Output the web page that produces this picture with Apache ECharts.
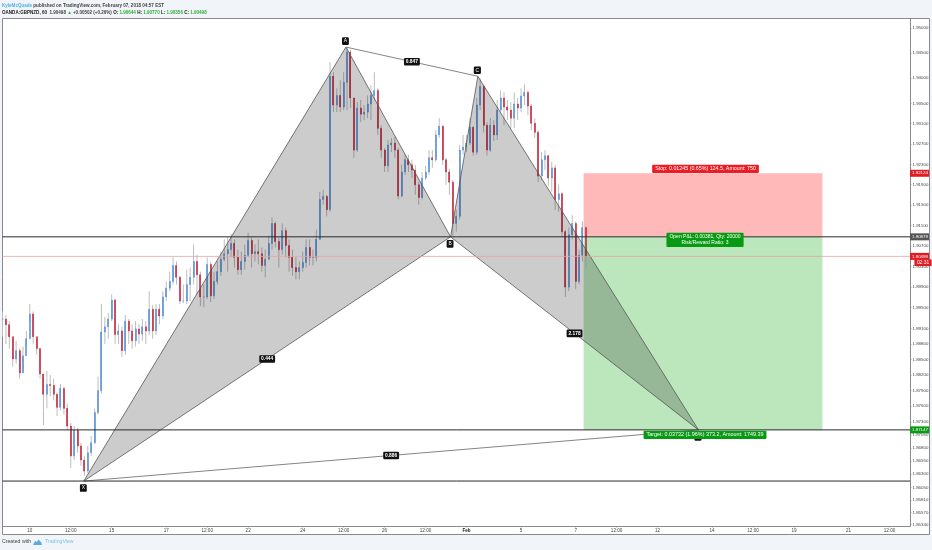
<!DOCTYPE html>
<html><head><meta charset="utf-8">
<style>html,body{margin:0;padding:0;background:#f1f4f8}#c{width:932px;height:550px}#c canvas{filter:blur(0.35px)}</style>
<script src="https://cdn.jsdelivr.net/npm/echarts@6/dist/echarts.min.js"></script>
</head><body><div id="c"></div>
<script>
const barStep = 3;
const closes = [1.8928,1.8917,1.8894,1.8851,1.8867,1.8824,1.8857,1.8890,1.8938,1.8894,1.8871,1.8822,1.8783,1.8802,1.8800,1.8783,1.8758,1.8794,1.8756,1.8722,1.8665,1.8714,1.8684,1.8657,1.8636,1.8671,1.8690,1.8748,1.8790,1.8903,1.8913,1.8928,1.8965,1.8898,1.8905,1.8867,1.8924,1.8905,1.8886,1.8909,1.8899,1.8913,1.8905,1.8947,1.8905,1.8947,1.8934,1.8971,1.8988,1.9001,1.9032,1.9009,1.8963,1.8963,1.8995,1.9009,1.9040,1.9014,1.8971,1.8971,1.9034,1.8973,1.9001,1.9020,1.9044,1.9055,1.9063,1.9075,1.9048,1.9024,1.9040,1.9052,1.9081,1.9055,1.9059,1.9055,1.9032,1.9044,1.9075,1.9114,1.9079,1.9063,1.9100,1.9071,1.9048,1.9028,1.9020,1.9028,1.9038,1.9067,1.9048,1.9048,1.9083,1.9161,1.9167,1.9141,1.9404,1.9347,1.9366,1.9343,1.9392,1.9452,1.9361,1.9258,1.9341,1.9329,1.9333,1.9349,1.9366,1.9376,1.9301,1.9258,1.9227,1.9268,1.9272,1.9258,1.9168,1.9215,1.9239,1.9229,1.9219,1.9190,1.9165,1.9203,1.9215,1.9243,1.9239,1.9288,1.9305,1.9239,1.9215,1.9195,1.9114,1.9128,1.9258,1.9264,1.9272,1.9303,1.9254,1.9347,1.9384,1.9307,1.9258,1.9307,1.9288,1.9337,1.9361,1.9343,1.9337,1.9321,1.9349,1.9341,1.9365,1.9372,1.9345,1.9311,1.9293,1.9207,1.9239,1.9247,1.9203,1.9223,1.9161,1.9172,1.9098,1.8990,1.9092,1.9114,1.9001,1.9052,1.9106,1.90498];
const highs = [1.8943,1.8936,1.8924,1.8890,1.8886,1.8871,1.8875,1.8905,1.8957,1.8943,1.8890,1.8871,1.8822,1.8828,1.8820,1.8813,1.8786,1.8803,1.8798,1.8765,1.8728,1.8722,1.8718,1.8690,1.8665,1.8684,1.8703,1.8756,1.8817,1.8957,1.8932,1.8940,1.8976,1.8967,1.8918,1.8913,1.8936,1.8928,1.8918,1.8924,1.8918,1.8928,1.8924,1.8982,1.8955,1.8957,1.8957,1.8982,1.9001,1.9020,1.9048,1.9040,1.9012,1.8995,1.9024,1.9028,1.9073,1.9053,1.9020,1.8995,1.9048,1.9040,1.9020,1.9040,1.9059,1.9083,1.9087,1.9094,1.9083,1.9063,1.9059,1.9073,1.9096,1.9087,1.9073,1.9083,1.9067,1.9063,1.9090,1.9126,1.9118,1.9087,1.9114,1.9106,1.9083,1.9063,1.9048,1.9040,1.9059,1.9083,1.9083,1.9063,1.9102,1.9176,1.9180,1.9170,1.9432,1.9412,1.9380,1.9396,1.9412,1.9460,1.9456,1.9361,1.9353,1.9357,1.9347,1.9366,1.9386,1.9412,1.9380,1.9307,1.9262,1.9278,1.9282,1.9284,1.9262,1.9229,1.9249,1.9249,1.9239,1.9229,1.9195,1.9215,1.9227,1.9258,1.9258,1.9297,1.9321,1.9307,1.9243,1.9221,1.9199,1.9141,1.9268,1.9288,1.9288,1.9321,1.9305,1.9361,1.9400,1.9386,1.9313,1.9321,1.9317,1.9357,1.9376,1.9372,1.9357,1.9353,1.9372,1.9361,1.9380,1.9388,1.9376,1.9349,1.9321,1.9297,1.9254,1.9258,1.9249,1.9235,1.9229,1.9190,1.9176,1.9102,1.9106,1.9130,1.9118,1.9063,1.9118,1.9110];
const lows = [1.8894,1.8880,1.8871,1.8836,1.8842,1.8813,1.8828,1.8877,1.8924,1.8880,1.8859,1.8813,1.8724,1.8756,1.8779,1.8771,1.8741,1.8752,1.8744,1.8714,1.8642,1.8657,1.8671,1.8646,1.8627,1.8632,1.8665,1.8688,1.8744,1.8785,1.8880,1.8890,1.8924,1.8880,1.8880,1.8855,1.8859,1.8880,1.8871,1.8875,1.8880,1.8886,1.8880,1.8897,1.8890,1.8897,1.8918,1.8928,1.8963,1.8982,1.8995,1.8995,1.8957,1.8959,1.8957,1.8963,1.8995,1.8976,1.8953,1.8951,1.8967,1.8961,1.8967,1.8995,1.9012,1.9040,1.9020,1.9048,1.9028,1.9014,1.9014,1.9024,1.9048,1.9028,1.9040,1.9034,1.9020,1.9009,1.9053,1.9063,1.9067,1.9028,1.9053,1.9048,1.9020,1.9012,1.9005,1.9005,1.9020,1.9028,1.9032,1.9032,1.9040,1.9083,1.9151,1.9128,1.9137,1.9333,1.9333,1.9333,1.9337,1.9337,1.9341,1.9243,1.9254,1.9313,1.9317,1.9321,1.9317,1.9357,1.9288,1.9243,1.9215,1.9215,1.9254,1.9243,1.9161,1.9165,1.9209,1.9215,1.9203,1.9170,1.9151,1.9161,1.9199,1.9209,1.9223,1.9235,1.9282,1.9229,1.9190,1.9170,1.9090,1.9098,1.9122,1.9249,1.9254,1.9268,1.9247,1.9249,1.9337,1.9293,1.9247,1.9254,1.9276,1.9278,1.9333,1.9307,1.9317,1.9301,1.9301,1.9317,1.9333,1.9347,1.9327,1.9297,1.9282,1.9195,1.9199,1.9219,1.9188,1.9176,1.9141,1.9137,1.9087,1.8971,1.8982,1.9083,1.8986,1.8995,1.9040,1.9028];

const priceTicks = [1.95,1.945,1.94,1.935,1.931,1.927,1.923,1.919,1.915,1.911,1.907,1.903,1.899,1.895,1.891,1.888,1.885,1.882,1.879,1.876,1.873,1.8705,1.868,1.8655,1.863,1.8605,1.8581,1.8557,1.8534];
const timeTickBars = [24,60,96,144,180,216,264,300,336,372,408,456,504,540,576,624,660,696,744,780];
const timeTickLabels = ['10','12:00','15','17','12:00','22','24','12:00','26','12:00','Feb','5','7','12:00','12','14','12:00','19','21','12:00'];
const axisBars = [0,798];
const axisPrices = [1.85316,1.9519];

const pivotNames = ['X','A','B','C','D'];
const pivotBars = [71.5,302,394,418,612];
const pivotPrices = [1.8617,1.9462,1.90879,1.9404,1.87147];
const triangles = [['X','A','B'],['B','C','D']];
const legs = [['A','C'],['X','D']];
const ratioLegs = [['X','B'],['A','C'],['B','D'],['X','D']];
const ratioLabels = ['0.444','0.847','2.178','0.886'];

const entry = 1.90879, stopPrice = 1.92124, targetPrice = 1.87147, lastPrice = 1.90498, patternLow = 1.8617;
const zoneBars = [511,721];
const hLevels = [entry,targetPrice,patternLow];
const stopText = 'Stop: 0.01245 (0.65%) 124.5, Amount: 750';
const openText = 'Open P&L: 0.00381, Qty: 20000\nRisk/Reward Ratio: 3';
const targetText = 'Target: 0.03732 (1.96%) 373.2, Amount: 1749.39';
const tagPrices = [stopPrice,entry,lastPrice,targetPrice];
const tagTexts = ['1.92124','1.90879','1.90498','1.87147'];
const tagColors = ['#e01b24','#555555','#e01b24','#089a12'];
const countdownText = '02:31';

const FF = '"Liberation Sans",Arial,sans-serif';
const TS = 4.55;
const opens = closes.map((c,i)=> i? closes[i-1] : c);
const bars = closes.map((_,i)=> i*barStep);
const idx = n => pivotNames.indexOf(n);
const pt = n => [pivotBars[idx(n)],pivotPrices[idx(n)]];

const chart = echarts.init(document.getElementById('c'),null,{renderer:'canvas'});
const noise = {silent:true,animation:false,tooltip:{show:false}};
const tagStyle = (text,x,y,bg,extra)=>Object.assign({text,x,y,fill:'#fff',fontFamily:FF,fontSize:4.9,align:'center',verticalAlign:'middle',backgroundColor:bg},extra||{});

chart.setOption({
  animation:false,
  backgroundColor:'#f1f4f8',
  title:[
    {left:2,top:3,padding:0,text:'{u|KyleMcQuade}{t| published on TradingView.com, February 07, 2018 04:57 EST}',
     textStyle:{fontSize:TS,rich:{u:{color:'#4fb0e6',fontSize:TS,fontFamily:FF},t:{color:'#444',fontSize:TS,fontFamily:FF}}}},
    {left:2,top:10.5,padding:0,text:'{b|OANDA:GBPNZD, 60}{t|  1.90498 }{g|▲}{t| +0.00502 (+0.26%) }{b|O:}{g| 1.90644 }{b|H:}{g| 1.90770 }{b|L:}{g| 1.90356 }{b|C:}{g| 1.90498}',
     textStyle:{fontSize:TS,rich:{b:{color:'#222',fontWeight:'bold',fontSize:TS,fontFamily:FF},t:{color:'#444',fontSize:TS,fontFamily:FF},g:{color:'#2fae3a',fontSize:TS,fontFamily:FF}}}}
  ],
  graphic:[
    {type:'rect',z:-10,silent:true,shape:{x:2.5,y:18.5,width:927,height:516},style:{fill:'#fff',stroke:'#8a8a8a',lineWidth:1}},
    {type:'text',silent:true,left:2,top:539,style:{text:'Created with',fill:'#444',fontFamily:FF,fontSize:5.2}},
    {type:'polygon',silent:true,shape:{points:[[33,545],[35,541],[37,542],[38.5,539.5],[41,542],[42,545]]},style:{fill:'#56aedc'}},
    {type:'text',silent:true,left:45,top:539,style:{text:'TradingView',fill:'#7cc4ec',fontFamily:FF,fontSize:5.2}}
  ],
  grid:{left:2.5,right:22,top:18.5,bottom:24,show:false},
  xAxis:{type:'value',min:axisBars[0],max:axisBars[1],
    axisLine:{show:true,onZero:false,lineStyle:{color:'#8a8a8a',width:1}},
    axisTick:{show:true,length:1.5,customValues:timeTickBars,lineStyle:{color:'#888',width:.6}},
    splitLine:{show:false},
    axisLabel:{customValues:timeTickBars,margin:2,fontSize:4.6,fontFamily:FF,color:'#444',hideOverlap:false,
      formatter:v=>{const s=timeTickLabels[timeTickBars.indexOf(v)]||'';return s==='Feb'?'{b|Feb}':s;},
      rich:{b:{fontWeight:'bold',fontSize:4.6,fontFamily:FF,color:'#222'}}}
  },
  yAxis:{type:'log',logBase:10,position:'right',min:axisPrices[0],max:axisPrices[1],
    axisLine:{show:true,onZero:false,lineStyle:{color:'#8a8a8a',width:1}},
    axisTick:{show:true,length:1.5,customValues:priceTicks,lineStyle:{color:'#888',width:.6}},
    splitLine:{show:false},
    axisLabel:{customValues:priceTicks,margin:2.5,fontSize:4.4,fontFamily:FF,color:'#444',hideOverlap:false,formatter:v=>Number(v).toFixed(5)}
  },
  series:[
    Object.assign({type:'custom',name:'Position zones',z:1,encode:{x:[0,2],y:[1,3]},
      data:[[zoneBars[0],stopPrice,zoneBars[1],entry],[zoneBars[0],entry,zoneBars[1],targetPrice]],
      renderItem(p,api){
        const a=api.coord([api.value(0),api.value(1)]),b=api.coord([api.value(2),api.value(3)]);
        return {type:'rect',shape:{x:a[0],y:a[1],width:b[0]-a[0],height:b[1]-a[1]},style:{fill:p.dataIndex?'#bce6bc':'#ffb9b9'}};
      }},noise),
    Object.assign({type:'custom',name:'Wicks',z:2,encode:{x:0,y:[1,2]},
      data:closes.map((_,i)=>[bars[i],highs[i],lows[i]]),
      renderItem(p,api){
        const a=api.coord([api.value(0),api.value(1)]),b=api.coord([api.value(0),api.value(2)]);
        return {type:'line',shape:{x1:a[0],y1:a[1],x2:b[0],y2:b[1]},style:{stroke:'#bdbdbd',lineWidth:1}};
      }},noise),
    Object.assign({type:'candlestick',name:'GBPNZD',z:3,barWidth:1.5,encode:{x:0,y:[1,2,3,4]},
      itemStyle:{color:'#4f8fdc',color0:'#d01f2e',borderColor:'#4f8fdc',borderColor0:'#c41d36',borderWidth:.5},
      data:closes.map((c,i)=>[bars[i],opens[i],c,Math.min(opens[i],c),Math.max(opens[i],c)])},noise),
    Object.assign({type:'custom',name:'Pattern fill',z:4,encode:{x:[0,2,4],y:[1,3,5]},
      data:triangles.map(t=>[...pt(t[0]),...pt(t[1]),...pt(t[2])]),
      renderItem(p,api){
        const pts=[0,2,4].map(k=>api.coord([api.value(k),api.value(k+1)]));
        return {type:'polygon',shape:{points:pts},style:{fill:'rgba(0,0,0,0.2)',stroke:'#555',lineWidth:.8}};
      }},noise),
    Object.assign({type:'custom',name:'Pattern legs',z:5,encode:{x:[0,2],y:[1,3]},
      data:legs.map(l=>[...pt(l[0]),...pt(l[1])]),
      renderItem(p,api){
        const a=api.coord([api.value(0),api.value(1)]),b=api.coord([api.value(2),api.value(3)]);
        return {type:'line',shape:{x1:a[0],y1:a[1],x2:b[0],y2:b[1]},style:{stroke:'#666',lineWidth:.8}};
      }},noise),
    Object.assign({type:'custom',name:'Levels',z:6,encode:{x:0,y:1},
      data:hLevels.map(v=>[axisBars[0],v]).concat([[axisBars[0],lastPrice]]),
      renderItem(p,api){
        const a=api.coord([axisBars[0],api.value(1)]),b=api.coord([axisBars[1],api.value(1)]);
        const last=p.dataIndex===hLevels.length;
        return {type:'line',shape:{x1:a[0],y1:a[1],x2:b[0],y2:b[1]},style:{stroke:last?'#e6a3a3':'#2a2a2a',lineWidth:last?.8:1}};
      }},noise),
    Object.assign({type:'custom',name:'Ratios',z:7,encode:{x:[0,2],y:[1,3]},
      data:ratioLegs.map(l=>[...pt(l[0]),...pt(l[1])]),
      renderItem(p,api){
        const a=api.coord([api.value(0),api.value(1)]),b=api.coord([api.value(2),api.value(3)]);
        return {type:'text',style:tagStyle(ratioLabels[p.dataIndex],(a[0]+b[0])/2,(a[1]+b[1])/2,'#111',{padding:[1.3,1.8],borderRadius:1.2,fontWeight:'bold'})};
      }},noise),
    Object.assign({type:'custom',name:'Pivot letters',z:7,encode:{x:0,y:1},
      data:pivotNames.map((n,i)=>[pivotBars[i],pivotPrices[i]]),
      renderItem(p,api){
        const a=api.coord([api.value(0),api.value(1)]);
        const n=pivotNames[p.dataIndex],above=(n==='A'||n==='C');
        return {type:'text',style:tagStyle(n,a[0]-.5,a[1]+(above?-6:7),'#111',{padding:[1.3,1.8],borderRadius:1.2})};
      }},noise),
    Object.assign({type:'custom',name:'Position labels',z:8,encode:{x:0,y:1},
      data:[[(zoneBars[0]+zoneBars[1])/2,stopPrice],[(zoneBars[0]+zoneBars[1])/2,entry],[(zoneBars[0]+zoneBars[1])/2,targetPrice]],
      renderItem(p,api){
        const a=api.coord([api.value(0),api.value(1)]);
        if(p.dataIndex===0) return {type:'text',style:tagStyle(stopText,a[0]+2.5,a[1]-4.5,'#ea1c24',{padding:[1.6,3],borderRadius:1,fontSize:5.3})};
        if(p.dataIndex===1) return {type:'text',style:tagStyle(openText,a[0]+2,a[1]+3,'#089a12',{padding:[1.2,3],borderRadius:1,lineHeight:6,fontSize:5})};
        return {type:'text',style:tagStyle(targetText,a[0]+2,a[1]+5,'#089a12',{padding:[1.6,3],borderRadius:1,fontSize:5.4})};
      }},noise),
    Object.assign({type:'custom',name:'Price tags',z:9,encode:{x:0,y:1},
      data:tagPrices.map(v=>[axisBars[1],v]).concat([[axisBars[1],lastPrice]]),
      renderItem(p,api){
        const a=api.coord([api.value(0),api.value(1)]);
        if(p.dataIndex===tagPrices.length)
          return {type:'text',style:tagStyle(countdownText,a[0]+13,a[1]+6.3,'#e01b24',{padding:[.8,2.5]})};
        const c=tagColors[p.dataIndex];
        return {type:'group',children:[
          {type:'rect',shape:{x:a[0],y:a[1]-3.5,width:19,height:7},style:{fill:c}},
          {type:'text',style:{text:tagTexts[p.dataIndex],x:a[0]+10,y:a[1],fill:'#fff',fontFamily:FF,fontSize:4.4,align:'center',verticalAlign:'middle'}}
        ]};
      }},noise)
  ]
});
</script></body></html>
